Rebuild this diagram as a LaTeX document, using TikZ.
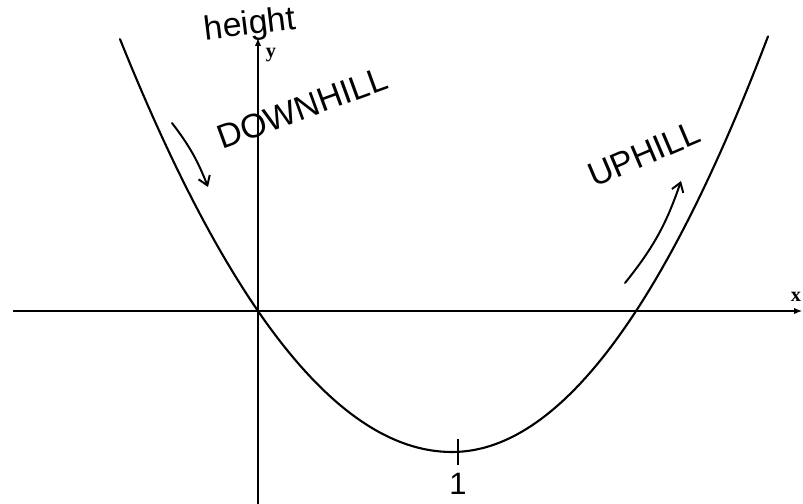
\documentclass[tikz,border=0pt]{standalone}
\usepackage{fontspec}
\setmainfont{Liberation Sans}
\newfontfamily\axisfont{Liberation Serif}
\usetikzlibrary{positioning, arrows.meta}

\tikzset{
  axis/.style={line width=0.8pt, -{Latex[length=2mm, width=1.6mm]}},
  curve/.style={line width=1.5pt, line cap=round},
  hand/.style={font=\fontsize{24}{28}\selectfont, inner sep=0pt},
  handarrow/.style={line width=1.4pt, line cap=round, -{Straight Barb[length=2.2mm, width=3mm]}}
}

\begin{document}
\begin{tikzpicture}[x=0.025cm, y=-0.025cm]
    \useasboundingbox (0,0) rectangle (803,504);

    % axes
    \coordinate (origin) at (258,311);
    \coordinate (xstart) at (13,311);
    \coordinate (xend) at (802,311);
    \coordinate (ybot) at (258,504);
    \coordinate (ytop) at (258,38);
    \draw[axis] (xstart) -- (xend);
    \draw[axis] (ybot) -- (ytop);
    \node[font=\axisfont\bfseries\Large, inner sep=0pt] (xlab) at (796,297) {x};
    \node[font=\axisfont\bfseries\Large, inner sep=0pt] (ylab) at (271,55) {y};

    % the curve, a bit steeper on the right
    \draw[curve] plot[domain=120:452, samples=60] (\x, {452-(0.0612*(\x-452))^2});
    \draw[curve] plot[domain=452:768, samples=60] (\x, {452-(0.06452*(\x-452))^2});

    % minimum
    \coordinate (vertex) at (458,452);
    \draw[line width=1.2pt] ([yshift=-9]vertex) -- ([yshift=9]vertex);
    \node[hand, font=\fontsize{22}{26}\selectfont] (onelab) at (458,484) {1};

    % handwritten labels
    \node[hand, rotate=7] (heightlab) at (250,26) {height};
    \node[hand, rotate=20] (downlab) at (302,108) {DOWNHILL};
    \node[hand, rotate=23] (uplab) at (644,154) {UPHILL};

    \coordinate (down0) at (172,123);
    \coordinate (down1) at (208,187);
    \draw[handarrow] (down0) to[bend left=8] (down1);
    \coordinate (up0) at (625,283);
    \coordinate (up1) at (681,181);
    \draw[handarrow] (up0) to[bend right=10] (up1);
  \end{tikzpicture}
\end{document}
